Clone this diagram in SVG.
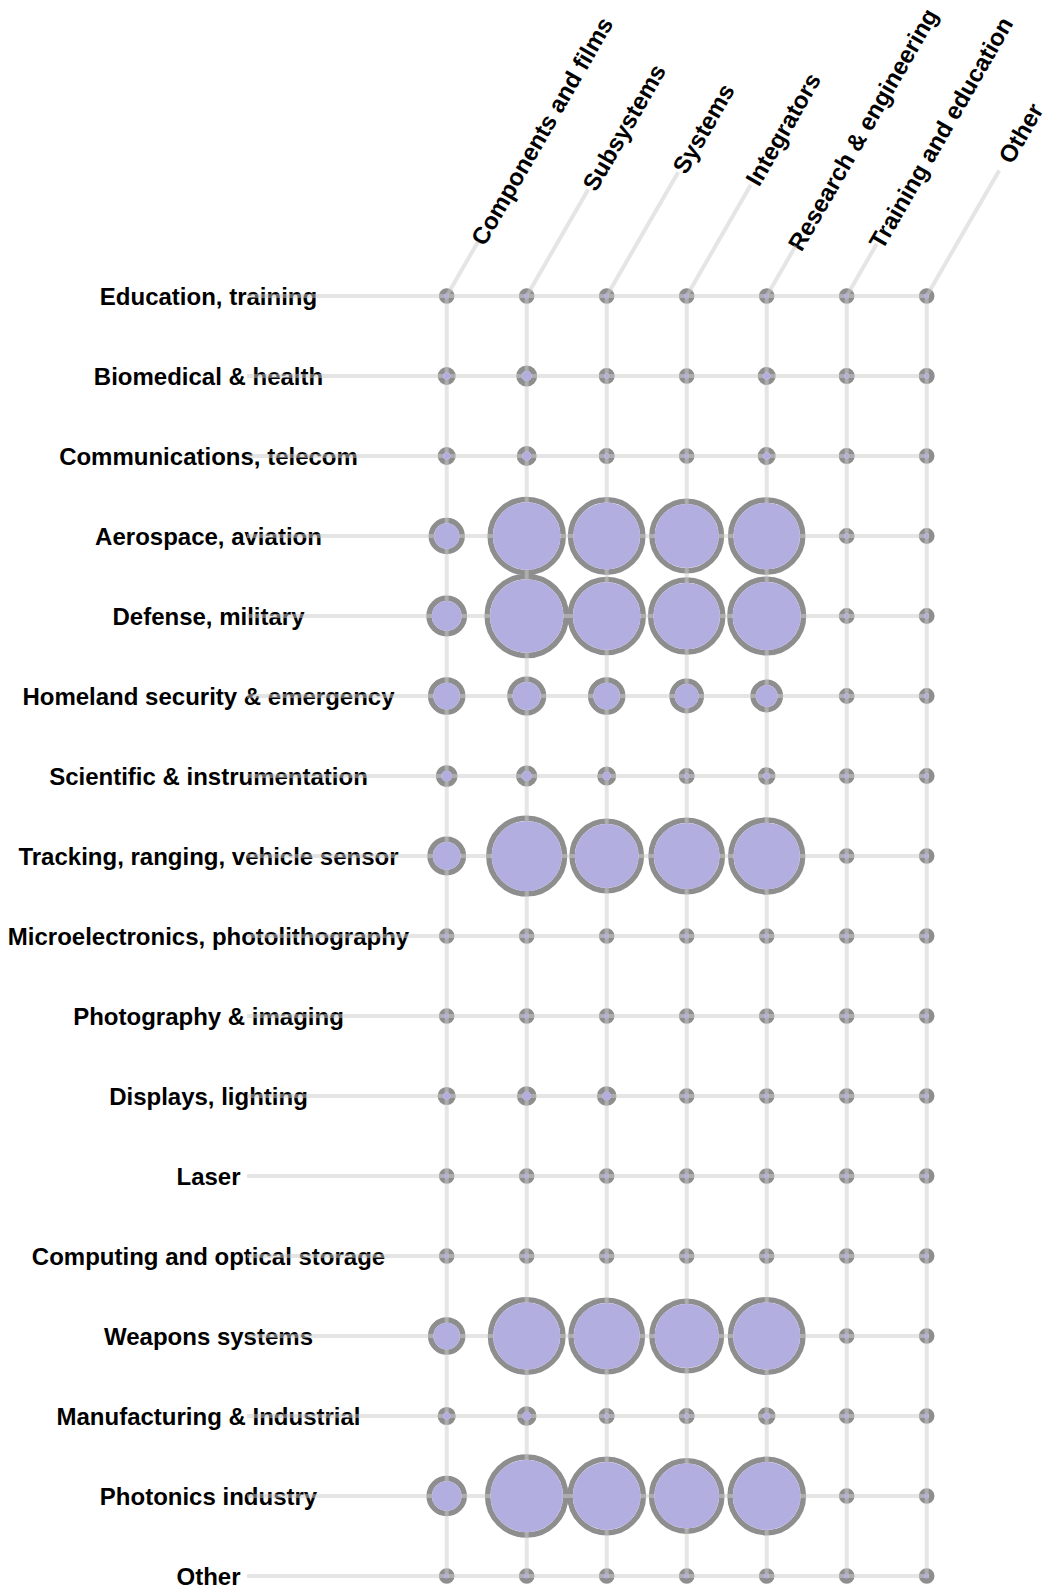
<svg xmlns="http://www.w3.org/2000/svg" width="1047" height="1590" viewBox="0 0 1047 1590">
<style>
.lbl{font-family:"Liberation Sans",Arial,sans-serif;font-weight:bold;font-size:24px;fill:#000}
.row{text-anchor:middle}
.ln line{stroke:#cccccc;stroke-width:4}
.rg circle{fill:none;stroke:#8e8e8e;stroke-width:5.5}
.f{fill:#b2aee0}
</style>
<rect width="1047" height="1590" fill="#fff"/>
<g id="row-labels" class="lbl row">
<g id="row-0"><text x="208.5" y="304.5">Education, training</text></g>
<g id="row-1"><text x="208.5" y="384.5">Biomedical &amp; health</text></g>
<g id="row-2"><text x="208.5" y="464.5">Communications, telecom</text></g>
<g id="row-3"><text x="208.5" y="544.5">Aerospace, aviation</text></g>
<g id="row-4"><text x="208.5" y="624.5">Defense, military</text></g>
<g id="row-5"><text x="208.5" y="704.5">Homeland security &amp; emergency</text></g>
<g id="row-6"><text x="208.5" y="784.5">Scientific &amp; instrumentation</text></g>
<g id="row-7"><text x="208.5" y="864.5">Tracking, ranging, vehicle sensor</text></g>
<g id="row-8"><text x="208.5" y="944.5">Microelectronics, photolithography</text></g>
<g id="row-9"><text x="208.5" y="1024.5">Photography &amp; imaging</text></g>
<g id="row-10"><text x="208.5" y="1104.5">Displays, lighting</text></g>
<g id="row-11"><text x="208.5" y="1184.5">Laser</text></g>
<g id="row-12"><text x="208.5" y="1264.5">Computing and optical storage</text></g>
<g id="row-13"><text x="208.5" y="1344.5">Weapons systems</text></g>
<g id="row-14"><text x="208.5" y="1424.5">Manufacturing &amp; Industrial</text></g>
<g id="row-15"><text x="208.5" y="1504.5">Photonics industry</text></g>
<g id="row-16"><text x="208.5" y="1584.5">Other</text></g>
</g>
<g id="col-labels" class="lbl">
<g id="col-0"><text transform="translate(477.2,243.1) rotate(-60)" y="8.5">Components and films</text></g>
<g id="col-1"><text transform="translate(588.7,188.6) rotate(-60)" y="8.5">Subsystems</text></g>
<g id="col-2"><text transform="translate(678.7,171.3) rotate(-60)" y="8.5">Systems</text></g>
<g id="col-3"><text transform="translate(751.7,183.4) rotate(-60)" y="8.5">Integrators</text></g>
<g id="col-4"><text transform="translate(794.2,248.4) rotate(-60)" y="8.5">Research &amp; engineering</text></g>
<g id="col-5"><text transform="translate(875.2,246.6) rotate(-60)" y="8.5">Training and education</text></g>
<g id="col-6"><text transform="translate(1004.7,160.9) rotate(-60)" y="8.5">Other</text></g>
</g>
<g id="node-rings" class="rg">
<circle cx="446.7" cy="296" r="5.05"/><circle cx="526.7" cy="296" r="5.05"/><circle cx="606.7" cy="296" r="5.05"/><circle cx="686.7" cy="296" r="5.05"/><circle cx="766.7" cy="296" r="5.05"/><circle cx="846.7" cy="296" r="5.05"/><circle cx="926.7" cy="296" r="5.05"/>
<circle cx="446.7" cy="376" r="6.25"/><circle cx="526.7" cy="376" r="7.75"/><circle cx="606.7" cy="376" r="5.25"/><circle cx="686.7" cy="376" r="5.05"/><circle cx="766.7" cy="376" r="6.25"/><circle cx="846.7" cy="376" r="5.25"/><circle cx="926.7" cy="376" r="5.25"/>
<circle cx="446.7" cy="456" r="6.25"/><circle cx="526.7" cy="456" r="7.25"/><circle cx="606.7" cy="456" r="5.25"/><circle cx="686.7" cy="456" r="5.05"/><circle cx="766.7" cy="456" r="6.25"/><circle cx="846.7" cy="456" r="5.25"/><circle cx="926.7" cy="456" r="5.05"/>
<circle cx="446.7" cy="536" r="15.45"/><circle cx="526.7" cy="536" r="36.55"/><circle cx="606.7" cy="536" r="36.15"/><circle cx="686.7" cy="536" r="34.75"/><circle cx="766.7" cy="536" r="36.05"/><circle cx="846.7" cy="536" r="5.15"/><circle cx="926.7" cy="536" r="5.15"/>
<circle cx="446.7" cy="616" r="17.65"/><circle cx="526.7" cy="616" r="39.55"/><circle cx="606.7" cy="616" r="36.55"/><circle cx="686.7" cy="616" r="36.05"/><circle cx="766.7" cy="616" r="36.85"/><circle cx="846.7" cy="616" r="5.15"/><circle cx="926.7" cy="616" r="5.15"/>
<circle cx="446.7" cy="696" r="16.05"/><circle cx="526.7" cy="696" r="16.85"/><circle cx="606.7" cy="696" r="16.05"/><circle cx="686.7" cy="696" r="14.65"/><circle cx="766.7" cy="696" r="13.65"/><circle cx="846.7" cy="696" r="5.15"/><circle cx="926.7" cy="696" r="5.15"/>
<circle cx="446.7" cy="776" r="8.05"/><circle cx="526.7" cy="776" r="7.85"/><circle cx="606.7" cy="776" r="6.75"/><circle cx="686.7" cy="776" r="5.25"/><circle cx="766.7" cy="776" r="6.05"/><circle cx="846.7" cy="776" r="5.05"/><circle cx="926.7" cy="776" r="5.15"/>
<circle cx="446.7" cy="856" r="16.65"/><circle cx="526.7" cy="856" r="37.85"/><circle cx="606.7" cy="856" r="34.65"/><circle cx="686.7" cy="856" r="35.65"/><circle cx="766.7" cy="856" r="35.95"/><circle cx="846.7" cy="856" r="5.05"/><circle cx="926.7" cy="856" r="5.05"/>
<circle cx="446.7" cy="936" r="5.05"/><circle cx="526.7" cy="936" r="5.05"/><circle cx="606.7" cy="936" r="5.05"/><circle cx="686.7" cy="936" r="5.05"/><circle cx="766.7" cy="936" r="5.05"/><circle cx="846.7" cy="936" r="5.05"/><circle cx="926.7" cy="936" r="5.05"/>
<circle cx="446.7" cy="1016" r="5.05"/><circle cx="526.7" cy="1016" r="5.05"/><circle cx="606.7" cy="1016" r="5.05"/><circle cx="686.7" cy="1016" r="5.05"/><circle cx="766.7" cy="1016" r="5.05"/><circle cx="846.7" cy="1016" r="5.05"/><circle cx="926.7" cy="1016" r="5.05"/>
<circle cx="446.7" cy="1096" r="6.35"/><circle cx="526.7" cy="1096" r="7.05"/><circle cx="606.7" cy="1096" r="7.05"/><circle cx="686.7" cy="1096" r="5.05"/><circle cx="766.7" cy="1096" r="5.05"/><circle cx="846.7" cy="1096" r="5.05"/><circle cx="926.7" cy="1096" r="5.05"/>
<circle cx="446.7" cy="1176" r="5.05"/><circle cx="526.7" cy="1176" r="5.05"/><circle cx="606.7" cy="1176" r="5.05"/><circle cx="686.7" cy="1176" r="5.05"/><circle cx="766.7" cy="1176" r="5.05"/><circle cx="846.7" cy="1176" r="5.05"/><circle cx="926.7" cy="1176" r="5.05"/>
<circle cx="446.7" cy="1256" r="5.05"/><circle cx="526.7" cy="1256" r="5.05"/><circle cx="606.7" cy="1256" r="5.05"/><circle cx="686.7" cy="1256" r="5.05"/><circle cx="766.7" cy="1256" r="5.05"/><circle cx="846.7" cy="1256" r="5.05"/><circle cx="926.7" cy="1256" r="5.05"/>
<circle cx="446.7" cy="1336" r="16.05"/><circle cx="526.7" cy="1336" r="36.25"/><circle cx="606.7" cy="1336" r="35.75"/><circle cx="686.7" cy="1336" r="34.75"/><circle cx="766.7" cy="1336" r="36.25"/><circle cx="846.7" cy="1336" r="5.05"/><circle cx="926.7" cy="1336" r="5.05"/>
<circle cx="446.7" cy="1416" r="6.35"/><circle cx="526.7" cy="1416" r="7.05"/><circle cx="606.7" cy="1416" r="5.25"/><circle cx="686.7" cy="1416" r="5.25"/><circle cx="766.7" cy="1416" r="6.05"/><circle cx="846.7" cy="1416" r="5.05"/><circle cx="926.7" cy="1416" r="5.05"/>
<circle cx="446.7" cy="1496" r="17.55"/><circle cx="526.7" cy="1496" r="39.05"/><circle cx="606.7" cy="1496" r="36.65"/><circle cx="686.7" cy="1496" r="35.15"/><circle cx="766.7" cy="1496" r="36.65"/><circle cx="846.7" cy="1496" r="5.05"/><circle cx="926.7" cy="1496" r="5.05"/>
<circle cx="446.7" cy="1576" r="5.05"/><circle cx="526.7" cy="1576" r="5.05"/><circle cx="606.7" cy="1576" r="5.05"/><circle cx="686.7" cy="1576" r="5.05"/><circle cx="766.7" cy="1576" r="5.05"/><circle cx="846.7" cy="1576" r="5.05"/><circle cx="926.7" cy="1576" r="5.05"/>
</g>
<g id="connectors" class="ln" opacity="0.5">
<line x1="247" y1="296" x2="926.7" y2="296"/>
<line x1="247" y1="376" x2="926.7" y2="376"/>
<line x1="247" y1="456" x2="926.7" y2="456"/>
<line x1="247" y1="536" x2="926.7" y2="536"/>
<line x1="247" y1="616" x2="926.7" y2="616"/>
<line x1="247" y1="696" x2="926.7" y2="696"/>
<line x1="247" y1="776" x2="926.7" y2="776"/>
<line x1="247" y1="856" x2="926.7" y2="856"/>
<line x1="247" y1="936" x2="926.7" y2="936"/>
<line x1="247" y1="1016" x2="926.7" y2="1016"/>
<line x1="247" y1="1096" x2="926.7" y2="1096"/>
<line x1="247" y1="1176" x2="926.7" y2="1176"/>
<line x1="247" y1="1256" x2="926.7" y2="1256"/>
<line x1="247" y1="1336" x2="926.7" y2="1336"/>
<line x1="247" y1="1416" x2="926.7" y2="1416"/>
<line x1="247" y1="1496" x2="926.7" y2="1496"/>
<line x1="247" y1="1576" x2="926.7" y2="1576"/>
<line x1="446.7" y1="1576" x2="446.7" y2="296"/><line x1="446.7" y1="296" x2="478.2" y2="241.4"/>
<line x1="526.7" y1="1576" x2="526.7" y2="296"/><line x1="526.7" y1="296" x2="588.2" y2="189.5"/>
<line x1="606.7" y1="1576" x2="606.7" y2="296"/><line x1="606.7" y1="296" x2="678.2" y2="172.2"/>
<line x1="686.7" y1="1576" x2="686.7" y2="296"/><line x1="686.7" y1="296" x2="750.7" y2="185.1"/>
<line x1="766.7" y1="1576" x2="766.7" y2="296"/><line x1="766.7" y1="296" x2="795.7" y2="245.8"/>
<line x1="846.7" y1="1576" x2="846.7" y2="296"/><line x1="846.7" y1="296" x2="876.7" y2="244"/>
<line x1="926.7" y1="1576" x2="926.7" y2="296"/><line x1="926.7" y1="296" x2="999.2" y2="170.4"/>
</g>
<g id="nodes" class="f">
<g id="n-0-0"><circle cx="446.7" cy="296" r="2.3"/></g><g id="n-0-1"><circle cx="526.7" cy="296" r="2.3"/></g><g id="n-0-2"><circle cx="606.7" cy="296" r="2.3"/></g><g id="n-0-3"><circle cx="686.7" cy="296" r="2.3"/></g><g id="n-0-4"><circle cx="766.7" cy="296" r="2.3"/></g><g id="n-0-5"><circle cx="846.7" cy="296" r="2.3"/></g><g id="n-0-6"><circle cx="926.7" cy="296" r="2.3"/></g>
<g id="n-1-0"><circle cx="446.7" cy="376" r="3.5"/></g><g id="n-1-1"><circle cx="526.7" cy="376" r="5"/></g><g id="n-1-2"><circle cx="606.7" cy="376" r="2.5"/></g><g id="n-1-3"><circle cx="686.7" cy="376" r="2.3"/></g><g id="n-1-4"><circle cx="766.7" cy="376" r="3.5"/></g><g id="n-1-5"><circle cx="846.7" cy="376" r="2.5"/></g><g id="n-1-6"><circle cx="926.7" cy="376" r="2.5"/></g>
<g id="n-2-0"><circle cx="446.7" cy="456" r="3.5"/></g><g id="n-2-1"><circle cx="526.7" cy="456" r="4.5"/></g><g id="n-2-2"><circle cx="606.7" cy="456" r="2.5"/></g><g id="n-2-3"><circle cx="686.7" cy="456" r="2.3"/></g><g id="n-2-4"><circle cx="766.7" cy="456" r="3.5"/></g><g id="n-2-5"><circle cx="846.7" cy="456" r="2.5"/></g><g id="n-2-6"><circle cx="926.7" cy="456" r="2.3"/></g>
<g id="n-3-0"><circle cx="446.7" cy="536" r="12.7"/></g><g id="n-3-1"><circle cx="526.7" cy="536" r="33.8"/></g><g id="n-3-2"><circle cx="606.7" cy="536" r="33.4"/></g><g id="n-3-3"><circle cx="686.7" cy="536" r="32"/></g><g id="n-3-4"><circle cx="766.7" cy="536" r="33.3"/></g><g id="n-3-5"><circle cx="846.7" cy="536" r="2.4"/></g><g id="n-3-6"><circle cx="926.7" cy="536" r="2.4"/></g>
<g id="n-4-0"><circle cx="446.7" cy="616" r="14.9"/></g><g id="n-4-1"><circle cx="526.7" cy="616" r="36.8"/></g><g id="n-4-2"><circle cx="606.7" cy="616" r="33.8"/></g><g id="n-4-3"><circle cx="686.7" cy="616" r="33.3"/></g><g id="n-4-4"><circle cx="766.7" cy="616" r="34.1"/></g><g id="n-4-5"><circle cx="846.7" cy="616" r="2.4"/></g><g id="n-4-6"><circle cx="926.7" cy="616" r="2.4"/></g>
<g id="n-5-0"><circle cx="446.7" cy="696" r="13.3"/></g><g id="n-5-1"><circle cx="526.7" cy="696" r="14.1"/></g><g id="n-5-2"><circle cx="606.7" cy="696" r="13.3"/></g><g id="n-5-3"><circle cx="686.7" cy="696" r="11.9"/></g><g id="n-5-4"><circle cx="766.7" cy="696" r="10.9"/></g><g id="n-5-5"><circle cx="846.7" cy="696" r="2.4"/></g><g id="n-5-6"><circle cx="926.7" cy="696" r="2.4"/></g>
<g id="n-6-0"><circle cx="446.7" cy="776" r="5.3"/></g><g id="n-6-1"><circle cx="526.7" cy="776" r="5.1"/></g><g id="n-6-2"><circle cx="606.7" cy="776" r="4"/></g><g id="n-6-3"><circle cx="686.7" cy="776" r="2.5"/></g><g id="n-6-4"><circle cx="766.7" cy="776" r="3.3"/></g><g id="n-6-5"><circle cx="846.7" cy="776" r="2.3"/></g><g id="n-6-6"><circle cx="926.7" cy="776" r="2.4"/></g>
<g id="n-7-0"><circle cx="446.7" cy="856" r="13.9"/></g><g id="n-7-1"><circle cx="526.7" cy="856" r="35.1"/></g><g id="n-7-2"><circle cx="606.7" cy="856" r="31.9"/></g><g id="n-7-3"><circle cx="686.7" cy="856" r="32.9"/></g><g id="n-7-4"><circle cx="766.7" cy="856" r="33.2"/></g><g id="n-7-5"><circle cx="846.7" cy="856" r="2.3"/></g><g id="n-7-6"><circle cx="926.7" cy="856" r="2.3"/></g>
<g id="n-8-0"><circle cx="446.7" cy="936" r="2.3"/></g><g id="n-8-1"><circle cx="526.7" cy="936" r="2.3"/></g><g id="n-8-2"><circle cx="606.7" cy="936" r="2.3"/></g><g id="n-8-3"><circle cx="686.7" cy="936" r="2.3"/></g><g id="n-8-4"><circle cx="766.7" cy="936" r="2.3"/></g><g id="n-8-5"><circle cx="846.7" cy="936" r="2.3"/></g><g id="n-8-6"><circle cx="926.7" cy="936" r="2.3"/></g>
<g id="n-9-0"><circle cx="446.7" cy="1016" r="2.3"/></g><g id="n-9-1"><circle cx="526.7" cy="1016" r="2.3"/></g><g id="n-9-2"><circle cx="606.7" cy="1016" r="2.3"/></g><g id="n-9-3"><circle cx="686.7" cy="1016" r="2.3"/></g><g id="n-9-4"><circle cx="766.7" cy="1016" r="2.3"/></g><g id="n-9-5"><circle cx="846.7" cy="1016" r="2.3"/></g><g id="n-9-6"><circle cx="926.7" cy="1016" r="2.3"/></g>
<g id="n-10-0"><circle cx="446.7" cy="1096" r="3.6"/></g><g id="n-10-1"><circle cx="526.7" cy="1096" r="4.3"/></g><g id="n-10-2"><circle cx="606.7" cy="1096" r="4.3"/></g><g id="n-10-3"><circle cx="686.7" cy="1096" r="2.3"/></g><g id="n-10-4"><circle cx="766.7" cy="1096" r="2.3"/></g><g id="n-10-5"><circle cx="846.7" cy="1096" r="2.3"/></g><g id="n-10-6"><circle cx="926.7" cy="1096" r="2.3"/></g>
<g id="n-11-0"><circle cx="446.7" cy="1176" r="2.3"/></g><g id="n-11-1"><circle cx="526.7" cy="1176" r="2.3"/></g><g id="n-11-2"><circle cx="606.7" cy="1176" r="2.3"/></g><g id="n-11-3"><circle cx="686.7" cy="1176" r="2.3"/></g><g id="n-11-4"><circle cx="766.7" cy="1176" r="2.3"/></g><g id="n-11-5"><circle cx="846.7" cy="1176" r="2.3"/></g><g id="n-11-6"><circle cx="926.7" cy="1176" r="2.3"/></g>
<g id="n-12-0"><circle cx="446.7" cy="1256" r="2.3"/></g><g id="n-12-1"><circle cx="526.7" cy="1256" r="2.3"/></g><g id="n-12-2"><circle cx="606.7" cy="1256" r="2.3"/></g><g id="n-12-3"><circle cx="686.7" cy="1256" r="2.3"/></g><g id="n-12-4"><circle cx="766.7" cy="1256" r="2.3"/></g><g id="n-12-5"><circle cx="846.7" cy="1256" r="2.3"/></g><g id="n-12-6"><circle cx="926.7" cy="1256" r="2.3"/></g>
<g id="n-13-0"><circle cx="446.7" cy="1336" r="13.3"/></g><g id="n-13-1"><circle cx="526.7" cy="1336" r="33.5"/></g><g id="n-13-2"><circle cx="606.7" cy="1336" r="33"/></g><g id="n-13-3"><circle cx="686.7" cy="1336" r="32"/></g><g id="n-13-4"><circle cx="766.7" cy="1336" r="33.5"/></g><g id="n-13-5"><circle cx="846.7" cy="1336" r="2.3"/></g><g id="n-13-6"><circle cx="926.7" cy="1336" r="2.3"/></g>
<g id="n-14-0"><circle cx="446.7" cy="1416" r="3.6"/></g><g id="n-14-1"><circle cx="526.7" cy="1416" r="4.3"/></g><g id="n-14-2"><circle cx="606.7" cy="1416" r="2.5"/></g><g id="n-14-3"><circle cx="686.7" cy="1416" r="2.5"/></g><g id="n-14-4"><circle cx="766.7" cy="1416" r="3.3"/></g><g id="n-14-5"><circle cx="846.7" cy="1416" r="2.3"/></g><g id="n-14-6"><circle cx="926.7" cy="1416" r="2.3"/></g>
<g id="n-15-0"><circle cx="446.7" cy="1496" r="14.8"/></g><g id="n-15-1"><circle cx="526.7" cy="1496" r="36.3"/></g><g id="n-15-2"><circle cx="606.7" cy="1496" r="33.9"/></g><g id="n-15-3"><circle cx="686.7" cy="1496" r="32.4"/></g><g id="n-15-4"><circle cx="766.7" cy="1496" r="33.9"/></g><g id="n-15-5"><circle cx="846.7" cy="1496" r="2.3"/></g><g id="n-15-6"><circle cx="926.7" cy="1496" r="2.3"/></g>
<g id="n-16-0"><circle cx="446.7" cy="1576" r="2.3"/></g><g id="n-16-1"><circle cx="526.7" cy="1576" r="2.3"/></g><g id="n-16-2"><circle cx="606.7" cy="1576" r="2.3"/></g><g id="n-16-3"><circle cx="686.7" cy="1576" r="2.3"/></g><g id="n-16-4"><circle cx="766.7" cy="1576" r="2.3"/></g><g id="n-16-5"><circle cx="846.7" cy="1576" r="2.3"/></g><g id="n-16-6"><circle cx="926.7" cy="1576" r="2.3"/></g>
</g>
</svg>
